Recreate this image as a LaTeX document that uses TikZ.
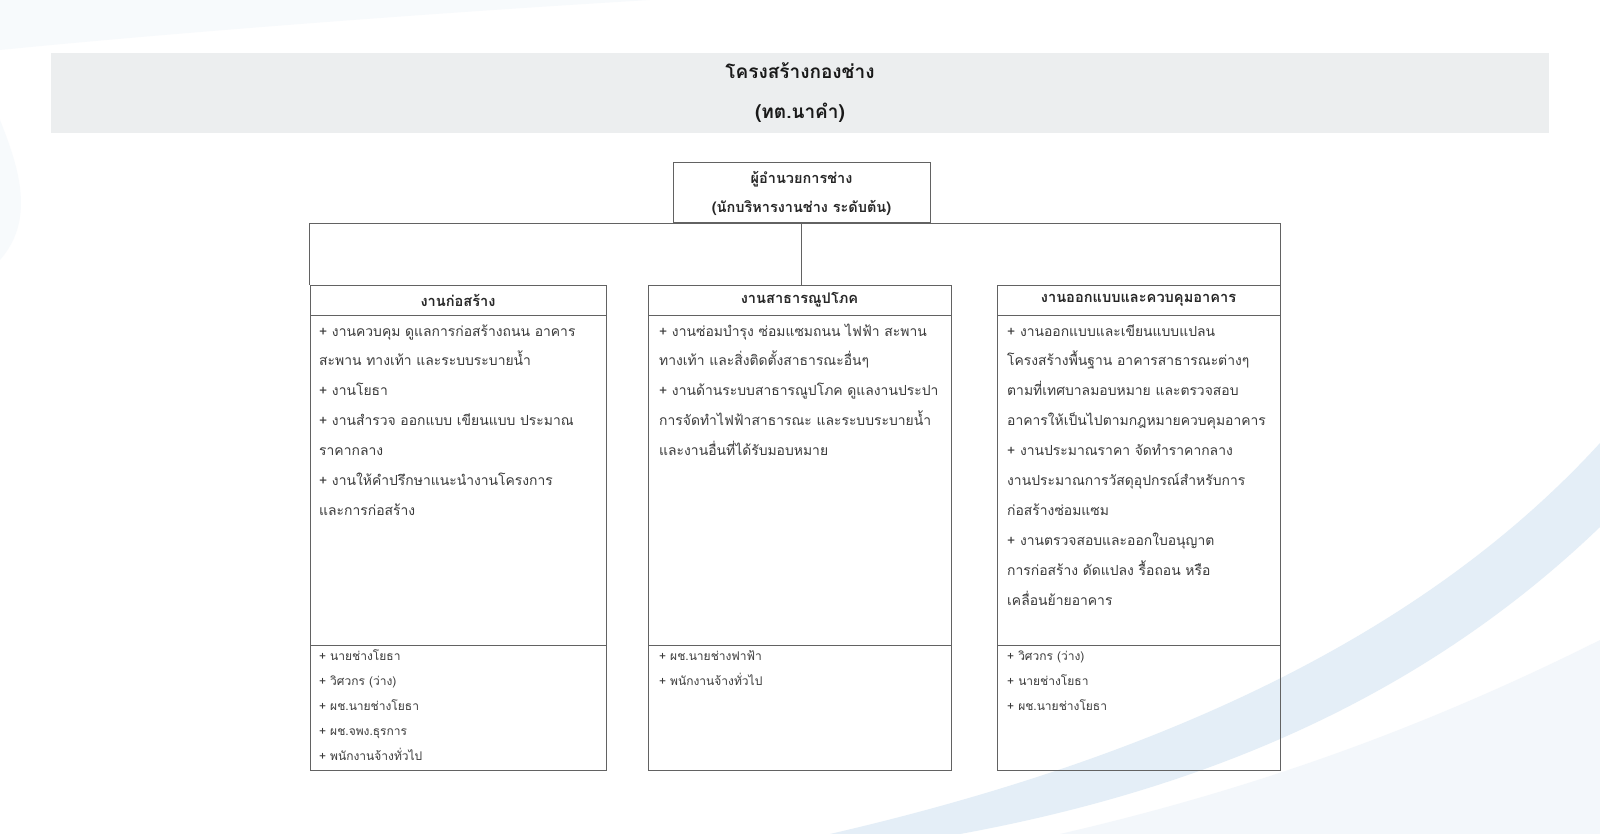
\documentclass[tikz,border=0pt]{standalone}
\usepackage{fontspec}
\setmainfont[Script=Thai]{Loma}
\newfontfamily\thaifont[Script=Thai]{Loma}
\definecolor{linec}{HTML}{626262}
\definecolor{txt}{HTML}{3A3A3A}
\definecolor{barc}{HTML}{ECEEEF}
\definecolor{swoosh}{HTML}{E4EEF7}
\definecolor{swooshlt}{HTML}{F3F7FB}
\newcommand{\bodylines}[2]{\vtop{\hsize=400pt\parindent=0pt\baselineskip=#1\lineskiplimit=-100pt\rightskip=0pt plus 1fil #2}}
\begin{document}
\begin{tikzpicture}[x=1pt,y=-1pt,
  frame/.style={draw=linec, line width=1pt, rectangle, inner sep=0pt},
  headbox/.style={frame, minimum height=30pt, font=\bfseries\fontsize{14.6}{16}\selectfont, text=black!85},
  bodytext/.style={anchor=base west, inner sep=0pt, text=txt, font=\fontsize{13.9}{18}\selectfont},
  stafftext/.style={anchor=base west, inner sep=0pt, text=txt, font=\fontsize{12}{14}\selectfont},
  conn/.style={draw=linec, line width=1pt}]
\useasboundingbox (0,0) rectangle (1600,834);
% background
\fill[white] (0,0) rectangle (1600,834);
\fill[swooshlt] (1600,640) .. controls (1420,730) and (1250,790) .. (1060,834) -- (1600,834) -- cycle;
\fill[swoosh] (830,834) .. controls (1150,760) and (1420,640) .. (1600,443) -- (1600,527) .. controls (1420,700) and (1200,790) .. (960,834) -- cycle;
\fill[swooshlt, opacity=0.6] (0,50) .. controls (150,35) and (400,15) .. (650,0) -- (0,0) -- cycle;
\fill[swooshlt, opacity=0.6] (0,120) .. controls (20,170) and (35,220) .. (0,260) -- cycle;
% title bar
\node[fill=barc, minimum width=1498pt, minimum height=80pt, inner sep=0pt] (bar) at (800,93) {};
\node[font=\bfseries\fontsize{19}{40}\selectfont, align=center, text=black!90] (title) at (800,93) {โครงสร้างกองช่าง\\(ทต.นาคำ)};
% boss
\node[frame, minimum width=257pt, minimum height=60pt, align=center, font=\bfseries\fontsize{14.5}{29}\selectfont, text=black!85] (boss) at (801.5,193) {ผู้อำนวยการช่าง\\(นักบริหารงานช่าง ระดับต้น)};
% headers
\node[headbox, minimum width=296pt] (h1) at (458,300) {งานก่อสร้าง};
\node[headbox, minimum width=303pt] (h2) at (799.5,300) {งานสาธารณูปโภค};
\node[headbox, minimum width=283pt] (h3) at (1138.5,300) {งานออกแบบและควบคุมอาคาร};
% body boxes
\node[frame, minimum width=296pt, minimum height=330pt] (b1) at (458,480) {};
\node[frame, minimum width=303pt, minimum height=330pt] (b2) at (799.5,480) {};
\node[frame, minimum width=283pt, minimum height=330pt] (b3) at (1138.5,480) {};
% staff boxes
\node[frame, minimum width=296pt, minimum height=125pt] (s1) at (458,707.5) {};
\node[frame, minimum width=303pt, minimum height=125pt] (s2) at (799.5,707.5) {};
\node[frame, minimum width=283pt, minimum height=125pt] (s3) at (1138.5,707.5) {};
% connectors
\draw[conn] (h1.north west) |- (boss.south) -| (h3.north east);
\draw[conn] (boss.south) -- (boss.south |- h2.north);
% body texts
\node[bodytext] (t1) at (319,336) {\bodylines{29.9pt}{%
+ งานควบคุม ดูแลการก่อสร้างถนน อาคาร\par
สะพาน ทางเท้า และระบบระบายน้ำ\par
+ งานโยธา\par
+ งานสำรวจ ออกแบบ เขียนแบบ ประมาณ\par
ราคากลาง\par
+ งานให้คำปรึกษาแนะนำงานโครงการ\par
และการก่อสร้าง}};
\node[bodytext] (t2) at (659,336) {\bodylines{29.9pt}{%
+ งานซ่อมบำรุง ซ่อมแซมถนน ไฟฟ้า สะพาน\par
ทางเท้า และสิ่งติดตั้งสาธารณะอื่นๆ\par
+ งานด้านระบบสาธารณูปโภค ดูแลงานประปา\par
การจัดทำไฟฟ้าสาธารณะ และระบบระบายน้ำ\par
และงานอื่นที่ได้รับมอบหมาย}};
\node[bodytext] (t3) at (1007,336) {\bodylines{29.9pt}{%
+ งานออกแบบและเขียนแบบแปลน\par
โครงสร้างพื้นฐาน อาคารสาธารณะต่างๆ\par
ตามที่เทศบาลมอบหมาย และตรวจสอบ\par
อาคารให้เป็นไปตามกฎหมายควบคุมอาคาร\par
+ งานประมาณราคา จัดทำราคากลาง\par
งานประมาณการวัสดุอุปกรณ์สำหรับการ\par
ก่อสร้างซ่อมแซม\par
+ งานตรวจสอบและออกใบอนุญาต\par
การก่อสร้าง ดัดแปลง รื้อถอน หรือ\par
เคลื่อนย้ายอาคาร}};
% staff texts
\node[stafftext] (p1) at (319,660) {\bodylines{25pt}{%
+ นายช่างโยธา\par
+ วิศวกร (ว่าง)\par
+ ผช.นายช่างโยธา\par
+ ผช.จพง.ธุรการ\par
+ พนักงานจ้างทั่วไป}};
\node[stafftext] (p2) at (659,660) {\bodylines{25pt}{%
+ ผช.นายช่างฟาฟ้า\par
+ พนักงานจ้างทั่วไป}};
\node[stafftext] (p3) at (1007,660) {\bodylines{25pt}{%
+ วิศวกร (ว่าง)\par
+ นายช่างโยธา\par
+ ผช.นายช่างโยธา}};
\end{tikzpicture}
\end{document}
